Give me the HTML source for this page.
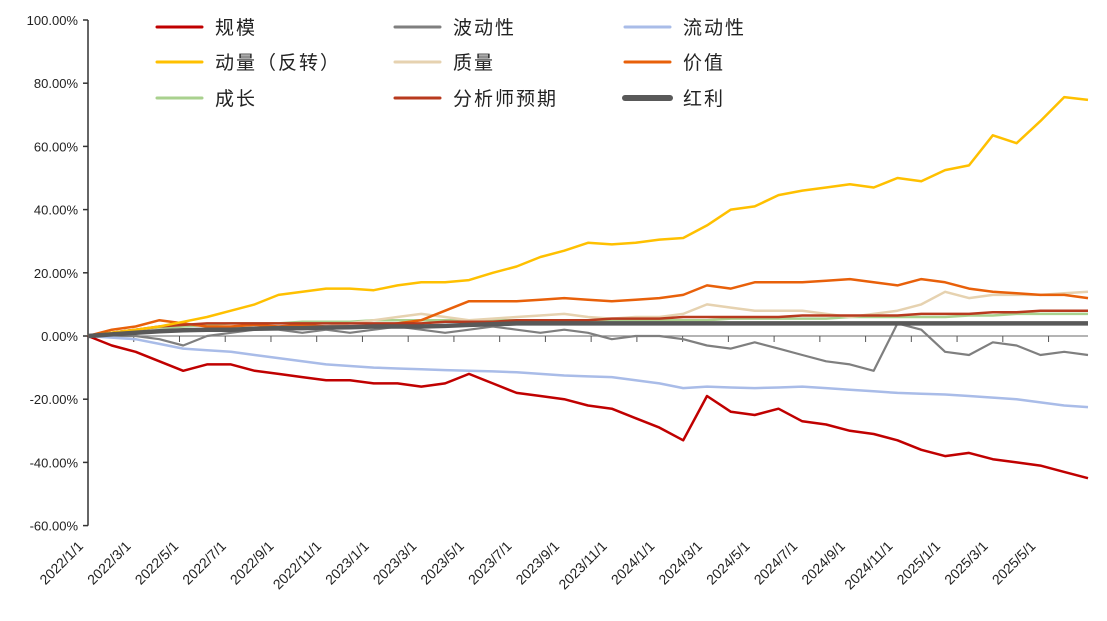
<!DOCTYPE html>
<html><head><meta charset="utf-8"><style>
body{margin:0;background:#fff;}
svg{display:block;font-family:"Liberation Sans","Noto Sans CJK SC",sans-serif;}
</style></head><body>
<svg id="chart" width="1107" height="621"></svg>
<script>
const months=[0,1,2,3,4,5,6,7,8,9,10,11,12,13,14,15,16,17,18,19,20,21,22,23,24,25,26,27,28,29,30,31,32,33,34,35,36,37,38,39,40,41,42];
const sizeVals=[0,-3,-5,-8,-11,-9,-9,-11,-12,-13,-14,-14,-15,-15,-16,-15,-12,-15,-18,-19,-20,-22,-23,-26,-29,-33,-19,-24,-25,-23,-27,-28,-30,-31,-33,-36,-38,-37,-39,-40,-41,-43,-45];
const volVals=[0,0,0,-1,-3,0,1,2,2,1,2,1,2,3,2,1,2,3,2,1,2,1,-1,0,0,-1,-3,-4,-2,-4,-6,-8,-9,-11,4,2,-5,-6,-2,-3,-6,-5,-6];
const liqVals=[0,-0.5,-1,-2.5,-4,-4.5,-5,-6,-7,-8,-9,-9.5,-10,-10.3,-10.5,-10.8,-11,-11.2,-11.5,-12,-12.5,-12.8,-13,-14,-15,-16.5,-16,-16.3,-16.5,-16.3,-16,-16.5,-17,-17.5,-18,-18.3,-18.5,-19,-19.5,-20,-21,-22,-22.5];
const momVals=[0,1,2,3,4.5,6,8,10,13,14,15,15,14.5,16,17,17,17.7,20,22,25,27,29.5,29,29.5,30.5,31,35,40,41,44.6,46,47,48,47,50,49,52.5,54,63.5,61,68,75.6,74.7];
const qualVals=[0,1,1.5,2,2,2,2.5,2.5,3,3,3,4,5,6,7,6,5,5.5,6,6.5,7,6,5.5,6,6,7,10,9,8,8,8,7,6,7,8,10,14,12,13,13,13,13.5,14];
const valueVals=[0,2,3,5,4,3,3,3.5,3,3.5,3,3,3,4,5,8,11,11,11,11.5,12,11.5,11,11.5,12,13,16,15,17,17,17,17.5,18,17,16,18,17,15,14,13.5,13,13,12];
const growVals=[0,1,2,2.5,3,3.5,4,4,4,4.5,4.5,4.5,5,5,5,5,5,5,5,5,5,5,5,5,5,5,5,5.5,5.5,5.5,5.5,5.5,6,6,6,6,6,6.5,6.5,7,7,7,7];
const analystVals=[0,1,2,3,3.5,4,4,4,4,4,4,4,4,4,4,4.5,4.5,4.5,5,5,5,5,5.5,5.5,5.5,6,6,6,6,6,6.5,6.5,6.5,6.5,6.5,7,7,7,7.5,7.5,8,8,8];
const divVals=[0,0.5,1,1.5,1.8,2,2,2.3,2.5,2.5,2.7,2.8,3,3,3,3.2,3.5,3.7,4,4,4,4,4,4,4,4,4,4,4,4,4,4,4,4,4,4,4,4,4,4,4,4,4];
const yTicks=[100,80,60,40,20,0,-20,-40,-60];
const xLabels=["2022/1/1","2022/3/1","2022/5/1","2022/7/1","2022/9/1","2022/11/1","2023/1/1","2023/3/1","2023/5/1","2023/7/1","2023/9/1","2023/11/1","2024/1/1","2024/3/1","2024/5/1","2024/7/1","2024/9/1","2024/11/1","2025/1/1","2025/3/1","2025/5/1"];

const NS="http://www.w3.org/2000/svg";
const svg=document.getElementById('chart');
const X0=88,X1=1088,MAXM=42;
const xs=m=>X0+m*(X1-X0)/MAXM;
const ys=v=>336-v*3.16;
function mk(t,a,parent){const e=document.createElementNS(NS,t);for(const k in a)e.setAttribute(k,a[k]);(parent||svg).appendChild(e);return e;}

const ya=mk('line',{x1:X0,y1:ys(100),x2:X0,y2:ys(-60),stroke:'#333','stroke-width':1.5});


yTicks.forEach(v=>{
  const t=mk('line',{x1:X0-5,y1:ys(v),x2:X0,y2:ys(v),stroke:'#333','stroke-width':1.5});
  
  
  const l=mk('text',{x:X0-10,y:ys(v)+5,'text-anchor':'end','font-size':13,fill:'#222'});
  l.textContent=v.toFixed(2)+'%';
  
  
});
const xa=mk('line',{x1:X0,y1:ys(0),x2:X1,y2:ys(0),stroke:'#888','stroke-width':1.2});


xLabels.forEach((s,i)=>{
  const m=i*2;
  const tx=X0+(1076-X0)*(i+1)/21.6;
  const t=mk('line',{x1:tx,y1:ys(0),x2:tx,y2:ys(0)+6,stroke:'#555','stroke-width':1});
  
  
  const ax=xs(m)-4, ay=547;
  const l=mk('text',{x:ax,y:ay,'text-anchor':'end','font-size':14,fill:'#222',transform:`rotate(-45 ${ax} ${ay})`});
  l.textContent=s;
  
  
});

const series=[
 ['growth',growVals,'#a9d18e',2.5],
 ['quality',qualVals,'#e6d2b0',2.5],
 ['value',valueVals,'#e8600a',2.5],
 ['analyst',analystVals,'#b83a1e',2.5],
 ['volatility',volVals,'#7f7f7f',2.2],
 ['liquidity',liqVals,'#a9bce8',2.5],
 ['size',sizeVals,'#c00000',2.5],
 ['momentum',momVals,'#ffc000',2.5],
 ['dividend',divVals,'#595959',4.5]
];
series.forEach(([n,vals,c,w])=>{
  const d=vals.map((v,i)=>(i?'L':'M')+xs(months[i]).toFixed(1)+','+ys(v).toFixed(1)).join('');
  const p=mk('path',{d:d,fill:'none',stroke:c,'stroke-width':w,'stroke-linejoin':'round'});
  
  
});

const legend=[['规模','#c00000',3,157,27],['波动性','#7f7f7f',3,395,27],['流动性','#a9bce8',3,625,27],
['动量（反转）','#ffc000',3,157,62],['质量','#e6d2b0',3,395,62],['价值','#e8600a',3,625,62],
['成长','#a9d18e',3,157,98],['分析师预期','#b83a1e',3,395,98],['红利','#595959',6,625,98]];
const lg=mk('g',{});


legend.forEach(([t,c,w,x,y])=>{
  const g=mk('g',{},lg);
  
  
  mk('line',{x1:x,y1:y,x2:x+45,y2:y,stroke:c,'stroke-width':w,'stroke-linecap':'round'},g);
  const tx=mk('text',{x:x+58,y:y+7,'font-size':19,fill:'#222','letter-spacing':'2'},g);
  tx.textContent=t;
});
</script>
</body></html>
